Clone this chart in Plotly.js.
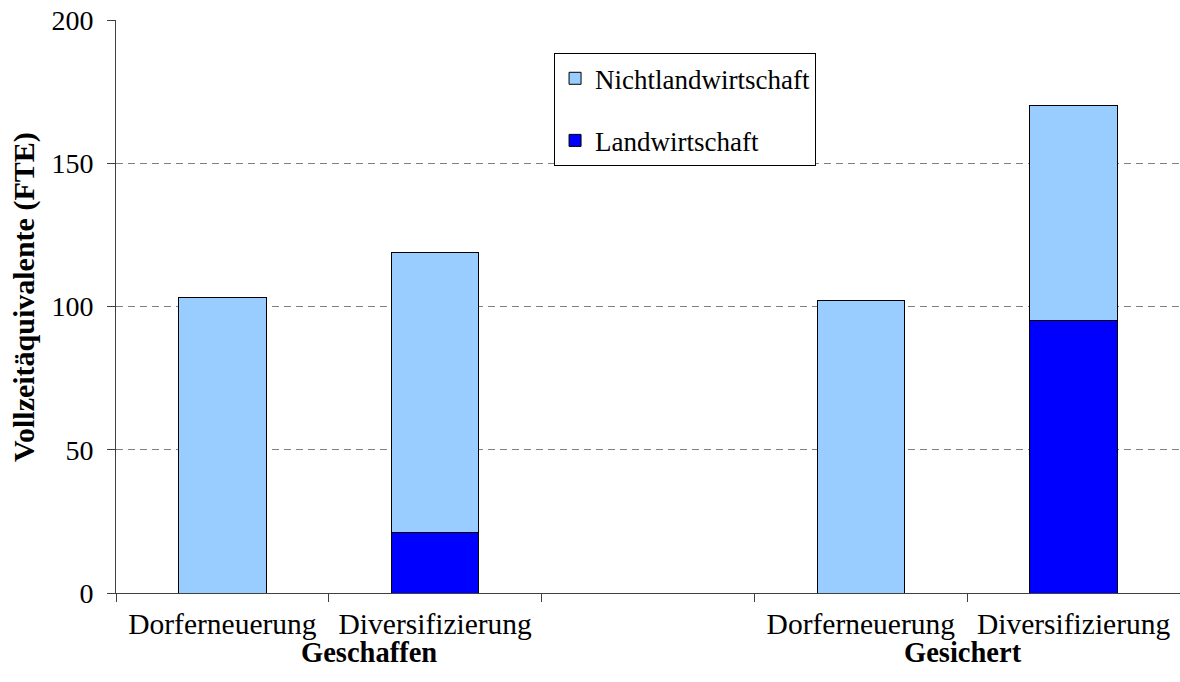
<!DOCTYPE html>
<html>
<head>
<meta charset="utf-8">
<script src="https://cdn.plot.ly/plotly-3.0.1.min.js"></script>
<style>html,body{margin:0;padding:0;background:#fff;}#chart{width:1180px;height:682px;}</style>
</head>
<body>
<div id="chart"></div>
<script>
// Category slots (one empty slot separates the two groups)
const categoryLabels = ["Dorferneuerung", "Diversifizierung", "Dorferneuerung", "Diversifizierung"];
const categoryPositions = [0.5, 1.5, 3.5, 4.5];
const groupLabels = ["Geschaffen", "Gesichert"];
const groupLabelPositions = [1.19, 3.98];
const slotBoundaries = [0, 1, 2, 3, 4, 5];

// Values (FTE)
const landwirtschaft = [0, 21, 0, 95];
const nichtlandwirtschaft = [103, 98, 102, 75];

const yTicks = [0, 50, 100, 150, 200];

const serif = "'Liberation Serif', 'Times New Roman', serif";

const traces = [
  {
    type: "bar", name: "Landwirtschaft", x: categoryPositions, y: landwirtschaft,
    marker: {color: "#0000FF", line: {color: "#000000", width: 1}},
    width: 0.41, legendgroup: "a", legendrank: 2, hoverinfo: "skip"
  },
  {
    type: "bar", name: "Nichtlandwirtschaft", x: categoryPositions, y: nichtlandwirtschaft,
    marker: {color: "#99CCFF", line: {color: "#000000", width: 1}},
    width: 0.41, legendgroup: "b", legendrank: 1, hoverinfo: "skip"
  },
  // invisible trace to bind overlay axes
  {type: "scatter", x: [0], y: [0], xaxis: "x2", yaxis: "y2", mode: "markers",
   marker: {opacity: 0}, showlegend: false, hoverinfo: "skip"}
];

const layout = {
  width: 1180, height: 682,
  margin: {l: 116, r: 0, t: 20, b: 89},
  paper_bgcolor: "#ffffff", plot_bgcolor: "#ffffff",
  barmode: "stack",
  font: {family: serif, size: 28, color: "#000000"},
  showlegend: true,
  legend: {
    x: 0.4117, y: 0.942, xanchor: "left", yanchor: "top",
    bgcolor: "#ffffff", bordercolor: "#000000", borderwidth: 1,
    font: {family: serif, size: 27, color: "#000000"},
    traceorder: "grouped", tracegroupgap: 24
  },
  xaxis: {
    range: [0, 5], tickvals: categoryPositions, ticktext: categoryLabels,
    ticks: "", showgrid: false, zeroline: false,
    showline: true, linecolor: "#404040", linewidth: 1,
    tickfont: {family: serif, size: 29.5, color: "#000000"},
    ticklabelstandoff: 5, fixedrange: true
  },
  xaxis2: {
    overlaying: "x", anchor: "y", side: "bottom", range: [0, 5],
    tickvals: slotBoundaries, ticks: "outside", ticklen: 8, tickcolor: "#404040",
    showticklabels: false, showgrid: false, zeroline: false, showline: false
  },
  yaxis: {
    range: [0, 200], tickvals: yTicks, ticks: "outside", ticklen: 8, tickcolor: "#404040",
    showline: true, linecolor: "#404040", linewidth: 1,
    showgrid: true, gridcolor: "#808080", gridwidth: 1, griddash: "7px,5px",
    zeroline: false, ticklabelstandoff: 8,
    tickfont: {family: serif, size: 28, color: "#000000"}
  },
  yaxis2: {
    overlaying: "y", anchor: "x", range: [0, 200], tickvals: [200],
    showticklabels: false, ticks: "", showgrid: true, gridcolor: "#808080", gridwidth: 1,
    griddash: "solid", zeroline: false, showline: false
  },
  annotations: groupLabels.map((g, i) => ({
    text: "<b>" + g + "</b>", x: groupLabelPositions[i], xref: "x",
    y: 0, yref: "paper", yanchor: "top", yshift: -42, showarrow: false,
    font: {family: serif, size: 28.5, color: "#000000"}
  })).concat([{
    text: "<b>Vollzeitäquivalente (FTE)</b>", textangle: -90,
    xref: "paper", x: -0.0865, xanchor: "center",
    yref: "paper", y: 0.5166, yanchor: "middle", showarrow: false,
    font: {family: serif, size: 30, color: "#000000"}
  }])
};

Plotly.newPlot("chart", traces, layout, {displayModeBar: false, staticPlot: true});
</script>
</body>
</html>
